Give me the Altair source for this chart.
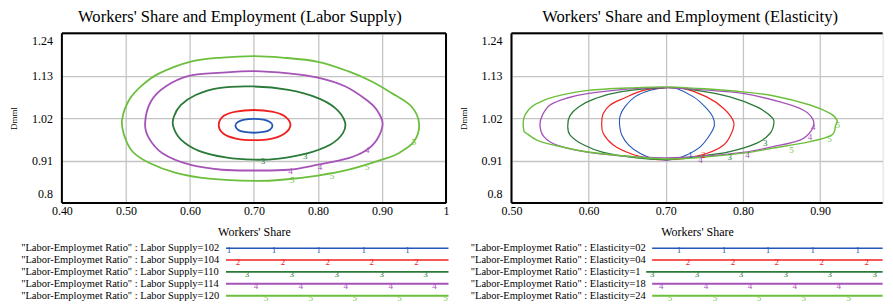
import altair as alt
import pandas as pd

FONT = "Liberation Serif"
SERIES = ["1", "2", "3", "4", "5"]
COLORS = ["#2457b8", "#f02020", "#2a7a38", "#a653b8", "#6cbf3c"]

TITLE_L = "Workers' Share and Employment (Labor Supply)"
TITLE_R = "Workers' Share and Employment (Elasticity)"
LABELS_L = ['"Labor-Employmet Ratio" : Labor Supply=102',
            '"Labor-Employmet Ratio" : Labor Supply=104',
            '"Labor-Employmet Ratio" : Labor Supply=110',
            '"Labor-Employmet Ratio" : Labor Supply=114',
            '"Labor-Employmet Ratio" : Labor Supply=120']
LABELS_R = ['"Labor-Employmet Ratio" : Elasticity=02',
            '"Labor-Employmet Ratio" : Elasticity=04',
            '"Labor-Employmet Ratio" : Elasticity=1',
            '"Labor-Employmet Ratio" : Elasticity=18',
            '"Labor-Employmet Ratio" : Elasticity=24']

X_TICKS_L = [0.4, 0.5, 0.6, 0.7, 0.8, 0.9, 1.0]
X_TICKS_R = [0.5, 0.6, 0.7, 0.8, 0.9, 1.0]
Y_TICKS = [0.8, 0.91, 1.02, 1.13, 1.24]
X_DOM_L = [0.4, 1.0]
X_DOM_R = [0.5, 0.981]   # right panel is cut by the picture's right edge
Y_DOM = [0.8, 1.24]

# ---- Left panel loops (Labor Supply) ----
LS_X = [
    [0.700, 0.715, 0.725, 0.729, 0.725, 0.715, 0.700, 0.685, 0.675, 0.671, 0.675, 0.685],
    [0.700, 0.728, 0.747, 0.757, 0.748, 0.728, 0.700, 0.672, 0.652, 0.645, 0.653, 0.672],
    [0.700, 0.754, 0.800, 0.827, 0.842, 0.839, 0.819, 0.780, 0.739, 0.700, 0.656, 0.614,
     0.586, 0.574, 0.575, 0.586, 0.609, 0.645],
    [0.700, 0.754, 0.800, 0.843, 0.876, 0.892, 0.901, 0.892, 0.874, 0.848, 0.800, 0.754,
     0.700, 0.650, 0.600, 0.557, 0.536, 0.530, 0.539, 0.562, 0.600, 0.650],
    [0.700, 0.744, 0.800, 0.848, 0.884, 0.915, 0.946, 0.958, 0.950, 0.926, 0.900, 0.848,
     0.800, 0.744, 0.700, 0.630, 0.578, 0.536, 0.510, 0.497, 0.494, 0.505, 0.526, 0.552,
     0.600, 0.650],
]
LS_Y = [
    [1.018, 1.016, 1.010, 1.001, 0.990, 0.984, 0.982, 0.984, 0.990, 1.001, 1.010, 1.016],
    [1.041, 1.037, 1.026, 1.003, 0.980, 0.967, 0.963, 0.967, 0.980, 1.003, 1.026, 1.037],
    [1.102, 1.093, 1.072, 1.046, 1.011, 0.981, 0.951, 0.927, 0.915, 0.912, 0.918, 0.935,
     0.964, 0.998, 1.024, 1.054, 1.080, 1.098],
    [1.142, 1.136, 1.125, 1.102, 1.067, 1.041, 1.005, 0.964, 0.935, 0.916, 0.899, 0.886,
     0.884, 0.886, 0.899, 0.929, 0.968, 1.007, 1.063, 1.102, 1.130, 1.138],
    [1.181, 1.177, 1.166, 1.141, 1.115, 1.085, 1.050, 1.005, 0.959, 0.929, 0.912, 0.886,
     0.871, 0.860, 0.857, 0.863, 0.878, 0.904, 0.934, 0.977, 1.016, 1.067, 1.106, 1.136,
     1.166, 1.177],
]

# ---- Right panel loops (Elasticity) ----
EL_X = [
    [0.700, 0.714, 0.736, 0.751, 0.761, 0.763, 0.757, 0.745, 0.727, 0.710, 0.700, 0.683,
     0.667, 0.652, 0.643, 0.640, 0.641, 0.647, 0.660, 0.680],
    [0.700, 0.723, 0.753, 0.775, 0.788, 0.785, 0.775, 0.753, 0.723, 0.700, 0.680, 0.654,
     0.632, 0.619, 0.617, 0.619, 0.628, 0.645, 0.671],
    [0.700, 0.740, 0.783, 0.818, 0.837, 0.840, 0.835, 0.818, 0.783, 0.740, 0.700, 0.662,
     0.619, 0.594, 0.576, 0.573, 0.576, 0.587, 0.609, 0.641],
    [0.700, 0.750, 0.800, 0.848, 0.878, 0.891, 0.889, 0.874, 0.839, 0.800, 0.740, 0.700,
     0.662, 0.600, 0.559, 0.542, 0.537, 0.540, 0.550, 0.572, 0.600, 0.662],
    [0.700, 0.750, 0.800, 0.839, 0.887, 0.913, 0.922, 0.920, 0.915, 0.887, 0.839, 0.800,
     0.740, 0.700, 0.662, 0.600, 0.555, 0.533, 0.520, 0.516, 0.516, 0.522, 0.533, 0.555,
     0.600, 0.662],
]
EL_Y = [
    [1.099, 1.097, 1.075, 1.049, 1.023, 1.001, 0.976, 0.946, 0.924, 0.913, 0.911, 0.915,
     0.928, 0.950, 0.976, 1.006, 1.027, 1.049, 1.075, 1.092],
    [1.099, 1.097, 1.075, 1.045, 1.010, 0.980, 0.950, 0.928, 0.915, 0.912, 0.915, 0.928,
     0.950, 0.980, 1.006, 1.032, 1.054, 1.071, 1.092],
    [1.099, 1.092, 1.075, 1.049, 1.023, 1.006, 0.980, 0.955, 0.933, 0.920, 0.913, 0.917,
     0.931, 0.950, 0.976, 1.001, 1.027, 1.049, 1.071, 1.088],
    [1.099, 1.093, 1.084, 1.062, 1.041, 1.015, 0.989, 0.963, 0.946, 0.931, 0.920, 0.917,
     0.919, 0.931, 0.950, 0.972, 1.001, 1.027, 1.054, 1.072, 1.084, 1.097],
    [1.101, 1.096, 1.088, 1.078, 1.054, 1.032, 1.014, 1.001, 0.976, 0.959, 0.942, 0.929,
     0.917, 0.914, 0.919, 0.932, 0.950, 0.963, 0.980, 0.988, 1.019, 1.041, 1.058, 1.075,
     1.092, 1.099],
]

# ---- series number markers drawn on the curves ----
MK_L_S = ["3", "3", "4", "4", "4", "5", "5", "5", "5"]
MK_L_X = [0.714, 0.780, 0.757, 0.803, 0.877, 0.760, 0.822, 0.877, 0.950]
MK_L_Y = [0.908, 0.922, 0.882, 0.893, 0.936, 0.859, 0.869, 0.893, 0.958]
MK_R_S = ["1", "2", "4", "4", "4", "4", "3", "3", "5", "5", "5"]
MK_R_X = [0.732, 0.749, 0.745, 0.806, 0.887, 0.891, 0.829, 0.783, 0.863, 0.912, 0.923]
MK_R_Y = [0.924, 0.924, 0.911, 0.924, 0.972, 0.997, 0.955, 0.920, 0.937, 0.967, 1.002]

# ---- legend: line start per row and number markers along the line ----
LEG_START_L = [0, 0, 0, 0, 0]
LEG_START_R = [0, 0, -6, 0, 0]
LEG_MK_L = {"1": [3, 48, 93, 138, 182], "2": [12, 57, 102, 146, 191],
            "3": [21, 66, 111, 156, 200], "4": [30, 75, 120, 165, 209],
            "5": [40, 85, 129, 174, 220]}
LEG_MK_R = {"1": [27, 72, 116, 161, 206], "2": [36, 81, 125, 170, 215],
            "3": [0, 45, 89, 134, 178, 223], "4": [9, 54, 98, 143, 187],
            "5": [18, 63, 107, 152, 197]}

H = 170
W_L = 385
W_R = 372
LEG_ROWS = [215.4, 263.0]


def loops_df(xs, ys):
    rows = []
    for s, xl, yl in zip(SERIES, xs, ys):
        for i, (x, y) in enumerate(zip(xl, yl)):
            rows.append({"s": s, "i": i, "x": x, "y": y})
    return pd.DataFrame(rows)


def panel(title, xs, ys, mk_s, mk_x, mk_y, labels, leg_start, leg_mk, xdom, xticks,
          curve_w, leg_x0, leg_len, lab_x, width, frame_x, title_dx):
    color = alt.Color("s:N", scale=alt.Scale(domain=SERIES, range=COLORS), legend=None)
    xsc = alt.Scale(domain=xdom, nice=False, zero=False)
    ysc = alt.Scale(domain=Y_DOM, nice=False, zero=False)
    xaxis = alt.Axis(values=xticks, labelExpr="datum.value >= 0.999 ? '1' : format(datum.value, '.2f')",
                     title="Workers' Share", grid=True, domain=False, ticks=False,
                     labelFlush=False, labelOverlap=False, labelPadding=3,
                     labelFont=FONT, labelFontSize=12, labelColor="black",
                     titleFont=FONT, titleFontSize=12, titleFontWeight="normal",
                     titleColor="black", titlePadding=10,
                     gridColor="#c4c4c4", gridWidth=1.3)
    yaxis = alt.Axis(values=Y_TICKS, format=".2~f", title="Dmml", grid=True,
                     domain=False, ticks=False, labelFlush=True, labelFlushOffset=-2,
                     labelPadding=9.5, minExtent=31, maxExtent=31,
                     labelFont=FONT, labelFontSize=12, labelColor="black",
                     titleFont=FONT, titleFontSize=9, titleFontWeight="normal",
                     titleColor="black", titlePadding=12,
                     gridColor="#c4c4c4", gridWidth=1.3)
    lines = alt.Chart(loops_df(xs, ys)).mark_line(interpolate="cardinal-closed").encode(
        x=alt.X("x:Q", scale=xsc, axis=xaxis),
        y=alt.Y("y:Q", scale=ysc, axis=yaxis),
        color=color,
        strokeWidth=alt.StrokeWidth("s:O", scale=alt.Scale(domain=SERIES, range=curve_w), legend=None),
        order="i:Q",
    )
    # plot frame drawn on the scale limits
    frame_h = alt.Chart(pd.DataFrame({"y": Y_DOM})).mark_rule(color="black", strokeWidth=2).encode(
        y=alt.Y("y:Q", scale=ysc, axis=None))
    frame_v = alt.Chart(pd.DataFrame({"x": frame_x})).mark_rule(color="black", strokeWidth=2).encode(
        x=alt.X("x:Q", scale=xsc, axis=None))
    mk_df = pd.DataFrame({"s": mk_s, "x": mk_x, "y": mk_y})
    marks = alt.Chart(mk_df).mark_text(font=FONT, fontSize=9, baseline="middle").encode(
        x=alt.X("x:Q", scale=xsc, axis=None),
        y=alt.Y("y:Q", scale=ysc, axis=None),
        text="s:N", color=color,
    )
    lsx = alt.Scale(domain=[0, leg_len], range=[leg_x0, leg_x0 + leg_len], nice=False, zero=False)
    lsy = alt.Scale(domain=[0, 4], range=LEG_ROWS, nice=False, zero=False)
    leg_df = pd.DataFrame({"s": SERIES, "r": list(range(5)), "a": leg_start,
                           "b": [leg_len] * 5, "lx": [lab_x] * 5, "label": labels})
    leg_rules = alt.Chart(leg_df).mark_rule().encode(
        x=alt.X("a:Q", scale=lsx, axis=None), x2="b:Q",
        y=alt.Y("r:Q", scale=lsy, axis=None),
        color=color,
        strokeWidth=alt.StrokeWidth("s:O", scale=alt.Scale(domain=SERIES, range=[1.5, 2, 3, 1.5, 2]), legend=None),
    )
    leg_text = alt.Chart(leg_df).mark_text(align="left", baseline="middle",
                                           font=FONT, fontSize=10.5, color="black").encode(
        x=alt.X("lx:Q", scale=lsx, axis=None),
        y=alt.Y("r:Q", scale=lsy, axis=None),
        text="label:N",
    )
    lm_rows = []
    for k, s in enumerate(SERIES):
        for p in leg_mk[s]:
            lm_rows.append({"s": s, "r": k, "p": p})
    leg_marks = alt.Chart(pd.DataFrame(lm_rows)).mark_text(font=FONT, fontSize=9, baseline="middle", dy=2).encode(
        x=alt.X("p:Q", scale=lsx, axis=None),
        y=alt.Y("r:Q", scale=lsy, axis=None),
        text="s:N", color=color,
    )
    return alt.layer(lines, frame_h, frame_v, marks, leg_rules, leg_text, leg_marks).resolve_scale(
        x="independent", y="independent", strokeWidth="independent"
    ).properties(
        width=width, height=H,
        title=alt.TitleParams(title, font=FONT, fontSize=16.6, fontWeight="normal", color="black",
                              anchor="middle", frame="group", dx=title_dx, offset=-6,
                              baseline="alphabetic"),
    )


left = panel(TITLE_L, LS_X, LS_Y, MK_L_S, MK_L_X, MK_L_Y, LABELS_L, LEG_START_L, LEG_MK_L,
             X_DOM_L, X_TICKS_L, [1.8, 1.8, 3, 1.8, 1.6], 164.5, 223, -205.3, W_L, X_DOM_L, -14)
right = panel(TITLE_R, EL_X, EL_Y, MK_R_S, MK_R_X, MK_R_Y, LABELS_R, LEG_START_R, LEG_MK_R,
              X_DOM_R, X_TICKS_R, [1.1, 1.4, 2.6, 2.6, 2.6], 141, 231, -181.8, W_R, [0.5], -7)

chart = alt.hconcat(left, right, spacing=65.6, bounds="flush").properties(
    padding={"left": 1, "top": -1, "right": 0, "bottom": 0}
).configure_view(stroke=None).configure(background="white")

chart.save("out.html", embed_options={"renderer": "svg", "actions": False})
